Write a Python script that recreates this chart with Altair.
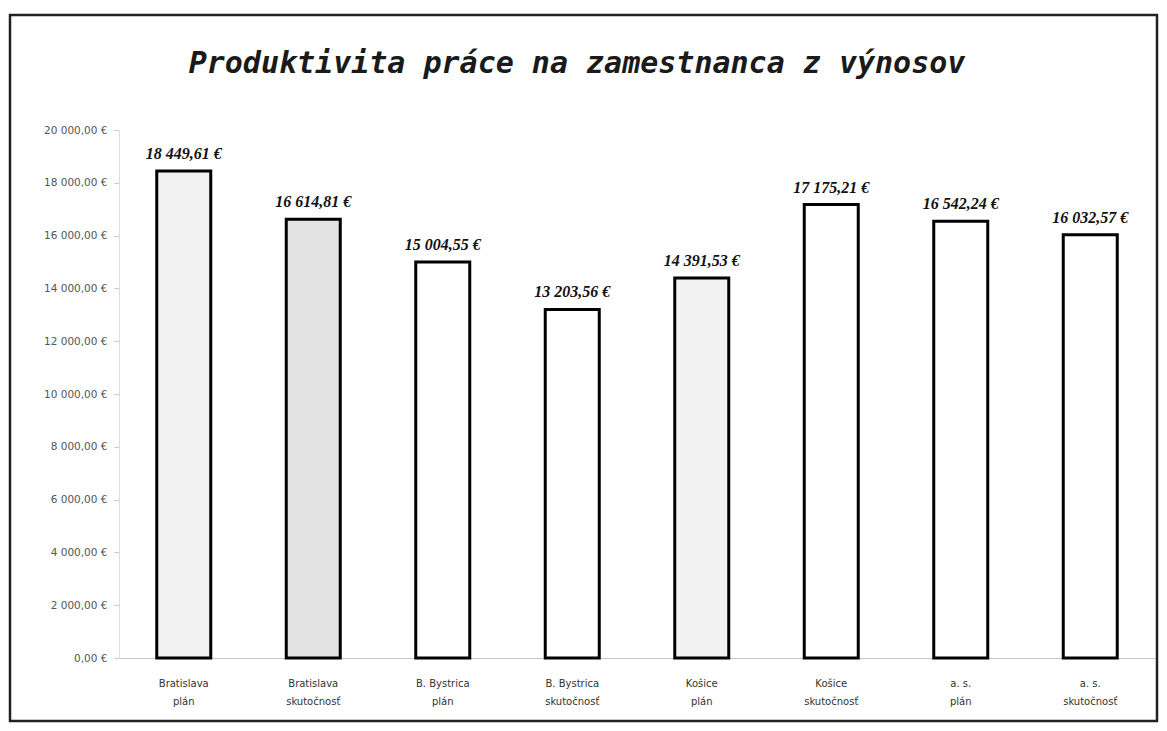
import altair as alt
import pandas as pd

# ---- data ----
miesta = ["Bratislava", "Bratislava", "B. Bystrica", "B. Bystrica",
          "Košice", "Košice", "a. s.", "a. s."]
typy = ["plán", "skutočnosť", "plán", "skutočnosť",
        "plán", "skutočnosť", "plán", "skutočnosť"]
hodnoty = [18449.61, 16614.81, 15004.55, 13203.56,
           14391.53, 17175.21, 16542.24, 16032.57]
vyplne = ["bodky", "sivá", "biela", "biela", "bodky", "biela", "biela", "biela"]
y_ticks = list(range(0, 20001, 2000))
nadpis = "Produktivita práce na zamestnanca z výnosov"

kategorie = [m + "\n" + t for m, t in zip(miesta, typy)]
df = pd.DataFrame({"kat": kategorie, "hodnota": hodnoty, "vypln": vyplne})

W, H = 1036, 528
fmt = "replace(replace(format({v}, ',.2f'), ',', ' '), '.', ',') + ' €'"

x_enc = alt.X("kat:N", sort=kategorie, title=None,
              scale=alt.Scale(paddingInner=0, paddingOuter=0),
              axis=alt.Axis(labelExpr="split(datum.label, '\\n')", labelAngle=0,
                            labelFont="DejaVu Sans", labelFontSize=10,
                            labelColor="#333333", labelPadding=20, labelLineHeight=18,
                            labelBaseline="top", grid=False,
                            domainColor="#c4c4c4", domainWidth=1.2, ticks=False))
y_enc = alt.Y("hodnota:Q", title=None,
              scale=alt.Scale(domain=[0, 20000], nice=False),
              axis=alt.Axis(values=y_ticks, labelExpr=fmt.format(v="datum.value"),
                            labelFont="DejaVu Sans", labelFontSize=10.5,
                            labelColor="#555555", labelPadding=7, tickSize=5,
                            tickColor="#c8c8c8", domainColor="#dddddd", grid=False))

bars = alt.Chart(df).mark_bar(size=54, stroke="black", strokeWidth=3).encode(
    x=x_enc, y=y_enc,
    fill=alt.Fill("vypln:N", legend=None,
                  scale=alt.Scale(domain=["bodky", "sivá", "biela"],
                                  range=["#f2f2f2", "#e3e3e3", "#ffffff"])),
)

labels = alt.Chart(df).transform_calculate(
    txt=fmt.format(v="datum.hodnota")
).mark_text(font="Liberation Serif", fontSize=16, fontWeight="bold",
            fontStyle="italic", baseline="bottom", dy=-9, color="#111111").encode(
    x=alt.X("kat:N", sort=kategorie),
    y="hodnota:Q",
    text="txt:N",
)

one = pd.DataFrame({"a": [0]})
border = alt.Chart(one).mark_rect(fill=None, stroke="#222222", strokeWidth=2.5).encode(
    x=alt.value(-109), x2=alt.value(1038), y=alt.value(-115), y2=alt.value(591))

title = alt.Chart(one).mark_text(
    text=nadpis, font="DejaVu Sans Mono", fontSize=30, fontStyle="italic",
    fontWeight="bold", align="center", baseline="middle", color="#1a1a1a").encode(
    x=alt.value(458), y=alt.value(-66))

chart = alt.layer(border, bars, labels, title).properties(
    width=W, height=H,
    background="white",
    autosize=alt.AutoSizeParams(type="none"),
    padding={"left": 111, "top": 122, "right": 4, "bottom": 65},
).configure_view(stroke=None)

chart.save("out.html", embed_options={"renderer": "svg", "actions": False})
